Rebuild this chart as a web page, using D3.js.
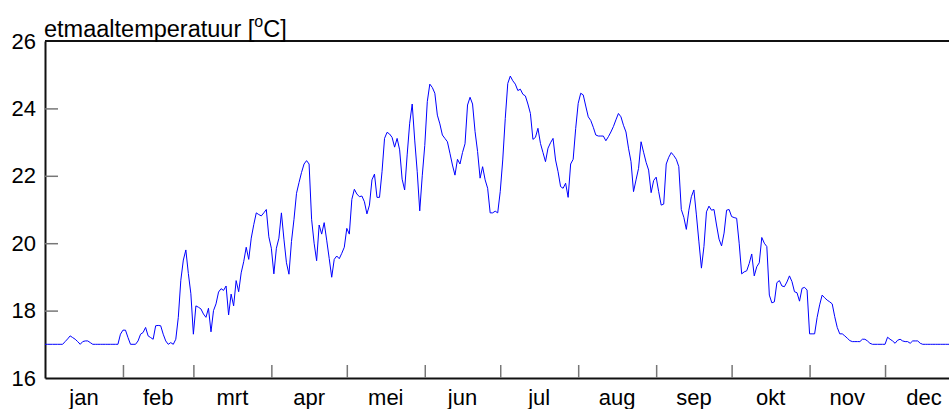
<!DOCTYPE html>
<meta charset="utf-8">

<head>
    <script src="https://d3js.org/d3.v7.min.js"></script>
    <style>
        body {
            margin: 0;
            background-color: white;
        }

        text {
            font-family: Arial, "Liberation Sans", Helvetica, sans-serif;
        }
    </style>
</head>

<body>
    <div class="viz"></div>

    <script>
        // month labels and month lengths (ticks sit on month boundaries)
        var months = ["jan", "feb", "mrt", "apr", "mei", "jun", "jul", "aug", "sep", "okt", "nov", "dec"];
        var monthDays = [31, 28, 31, 30, 31, 30, 31, 31, 30, 31, 30, 31];
        var yTicks = [16, 18, 20, 22, 24, 26];

        // daily values
        var jan = [17.0, 17.0, 17.0, 17.0, 17.0, 17.0, 17.0, 17.0, 17.08, 17.16, 17.25, 17.2, 17.15, 17.08, 17.0, 17.08,
            17.1, 17.1, 17.05, 17.0, 17.0, 17.0, 17.0, 17.0, 17.0, 17.0, 17.0, 17.0, 17.0, 17.0, 17.3];
        var feb = [17.42, 17.42, 17.2, 17.0, 17.0, 17.0, 17.1, 17.3, 17.35, 17.5, 17.25, 17.2, 17.15, 17.55, 17.56, 17.55,
            17.3, 17.1, 17.0, 17.05, 17.0, 17.15, 17.8, 18.9, 19.5, 19.8, 19.1, 18.5];
        var mrt = [17.3, 18.14, 18.1, 18.05, 17.9, 17.8, 18.07, 17.37, 18.0, 18.2, 18.55, 18.65, 18.6, 18.73, 17.87, 18.49,
            18.14, 18.89, 18.56, 19.12, 19.45, 19.88, 19.52, 20.15, 20.55, 20.9, 20.85, 20.81, 20.9, 21.0, 20.19];
        var apr = [19.85, 19.09, 19.85, 20.15, 20.9, 20.12, 19.42, 19.08, 20.05, 20.71, 21.48, 21.8, 22.1, 22.35, 22.45, 22.35,
            20.71, 20.0, 19.48, 20.54, 20.27, 20.61, 20.09, 19.55, 18.99, 19.52, 19.62, 19.54, 19.7, 19.88];
        var mei = [20.44, 20.27, 21.3, 21.6, 21.46, 21.38, 21.4, 21.23, 20.87, 21.13, 21.88, 22.05, 21.36, 21.36, 22.12, 23.11,
            23.29, 23.24, 23.14, 22.85, 23.11, 22.77, 21.9, 21.58, 22.62, 23.56, 24.13, 23.06, 22.12, 20.96, 22.0];
        var jun = [22.9, 24.2, 24.72, 24.62, 24.45, 23.8, 23.54, 23.21, 23.11, 23.01, 22.67, 22.32, 22.02, 22.49, 22.35, 22.69,
            22.95, 24.1, 24.33, 24.13, 23.31, 22.72, 21.93, 22.27, 21.88, 21.63, 20.9, 20.9, 20.95, 20.9];
        var jul = [21.53, 22.47, 23.7, 24.74, 24.96, 24.82, 24.72, 24.53, 24.57, 24.42, 24.37, 24.13, 23.85, 23.08, 23.14, 23.41,
            22.96, 22.69, 22.42, 22.82, 22.98, 23.11, 22.47, 22.12, 21.68, 21.63, 21.78, 21.36, 22.35, 22.49, 23.4];
        var aug = [24.15, 24.45, 24.4, 24.07, 23.75, 23.64, 23.44, 23.21, 23.18, 23.18, 23.18, 23.04, 23.16, 23.3, 23.46, 23.66,
            23.85, 23.75, 23.5, 23.3, 22.82, 22.42, 21.53, 21.88, 22.22, 23.01, 22.7, 22.4, 22.17, 21.5, 21.86];
        var sep = [21.96, 21.53, 21.13, 21.16, 22.35, 22.55, 22.69, 22.6, 22.49, 22.27, 21.0, 20.77, 20.41, 20.98, 21.38, 21.58,
            20.84, 20.04, 19.26, 19.9, 20.93, 21.1, 20.98, 21.0, 20.54, 20.12, 19.92, 20.3, 20.98, 21.0];
        var okt = [20.79, 20.76, 20.74, 20.0, 19.09, 19.15, 19.18, 19.4, 19.68, 19.03, 19.3, 19.42, 20.17, 20.0, 19.9, 18.46,
            18.23, 18.26, 18.83, 18.89, 18.73, 18.71, 18.85, 19.03, 18.86, 18.56, 18.53, 18.28, 18.66, 18.69, 18.61];
        var nov = [17.31, 17.31, 17.31, 17.8, 18.17, 18.46, 18.38, 18.31, 18.26, 18.2, 17.82, 17.5, 17.31, 17.31, 17.25, 17.18,
            17.11, 17.08, 17.08, 17.08, 17.08, 17.15, 17.15, 17.1, 17.03, 17.0, 17.0, 17.0, 17.0, 17.0];
        var dec = [17.0, 17.21, 17.15, 17.1, 17.03, 17.12, 17.15, 17.1, 17.08, 17.08, 17.03, 17.1, 17.1, 17.1, 17.03, 17.0,
            17.0, 17.0, 17.0, 17.0, 17.0, 17.0, 17.0, 17.0, 17.0, 17.0, 17.0, 17.0, 17.0, 17.0, 17.0];

        var temps = [].concat(jan, feb, mrt, apr, mei, jun, jul, aug, sep, okt, nov, dec);

        var width = 949,
            height = 409;

        // the plot runs a bit past the right edge of the window, like the original
        var x = d3.scaleLinear().domain([0, 365]).range([45, 963]);
        var y = d3.scaleLinear().domain([16, 26]).range([378, 41]);

        var bounds = [];
        var acc = 0;
        monthDays.forEach(function(n) {
            bounds.push({ start: acc, end: acc + n });
            acc += n;
        });

        var svg = d3.select("div.viz").append("svg")
            .attr("width", width)
            .attr("height", height);

        // x axis: ticks on month ends, labels in the middle of each month
        var xAxis = svg.append("g")
            .attr("transform", "translate(0," + y(16) + ")")
            .call(d3.axisBottom(x)
                .tickValues(bounds.slice(0, 11).map(function(b) { return b.end; }))
                .tickSize(-13)
                .tickSizeOuter(0)
                .tickFormat(""));

        xAxis.select(".domain").attr("stroke", "#111").attr("stroke-width", 2);
        xAxis.selectAll(".tick line").attr("stroke", "#777").attr("stroke-width", 1.5);

        svg.append("g").selectAll("text")
            .data(bounds)
            .enter().append("text")
            .attr("x", function(d, i) { return x((d.start + d.end) / 2); })
            .attr("y", 405)
            .attr("text-anchor", "middle")
            .style("font-size", "22px")
            .text(function(d, i) { return months[i]; });

        // y axis with ticks pointing into the plot
        var yAxis = svg.append("g")
            .attr("transform", "translate(" + x(0) + ",0)")
            .call(d3.axisLeft(y)
                .tickValues(yTicks)
                .tickSize(-13)
                .tickSizeOuter(0)
                .tickPadding(9));

        yAxis.attr("font-size", null).attr("font-family", null);
        yAxis.select(".domain").attr("stroke", "#111").attr("stroke-width", 2);
        yAxis.selectAll(".tick line")
            .attr("stroke", "#777")
            .attr("stroke-width", 1.5)
            .style("display", function(d) { return (d == 16 || d == 26) ? "none" : null; });
        yAxis.selectAll(".tick text")
            .style("font-size", "22px")
            .attr("fill", "#000");

        // top frame line
        svg.append("line")
            .attr("x1", x(0)).attr("x2", x(365))
            .attr("y1", y(26)).attr("y2", y(26))
            .attr("stroke", "#111")
            .attr("stroke-width", 2);

        // title with superscript degree sign
        var title = svg.append("text")
            .attr("x", 44)
            .attr("y", 37)
            .style("font-size", "23.5px");
        title.append("tspan").text("etmaaltemperatuur [");
        title.append("tspan").attr("dy", -10).style("font-size", "16px").text("o");
        title.append("tspan").attr("dy", 10).text("C]");

        var line = d3.line()
            .x(function(d, i) { return x(i); })
            .y(function(d) { return y(d); });

        svg.append("path")
            .datum(temps)
            .attr("d", line)
            .attr("fill", "none")
            .attr("stroke", "#0000ff")
            .attr("stroke-width", 1);
    </script>
</body>
